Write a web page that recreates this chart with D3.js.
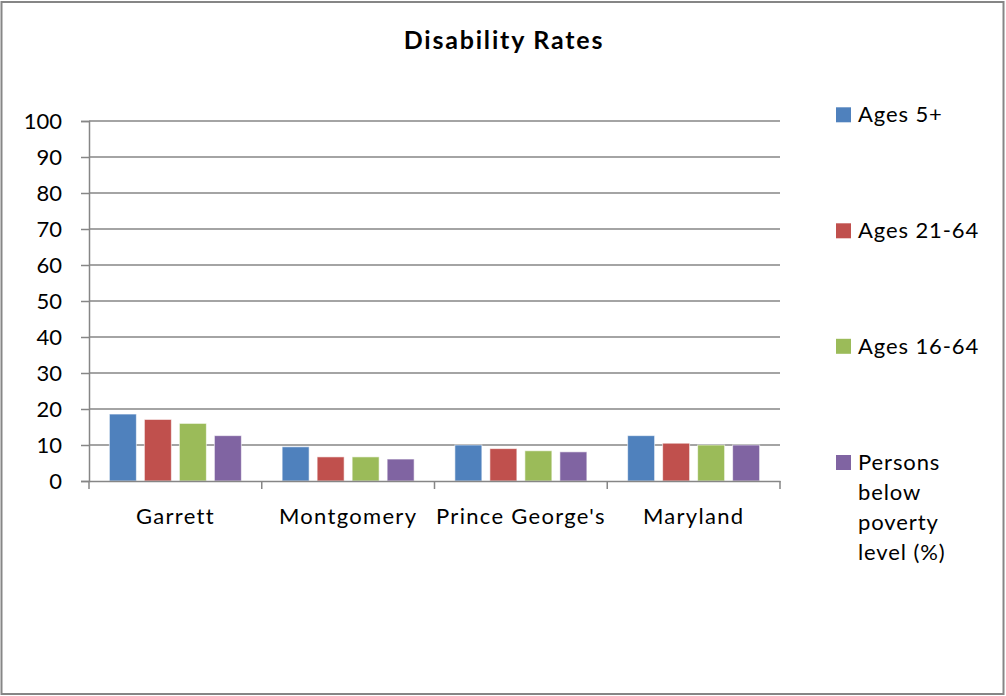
<!DOCTYPE html>
<html><head><meta charset="utf-8">
<script src="https://cdn.jsdelivr.net/npm/d3@7"></script>
<style>body{margin:0;background:#fff}svg{display:block}text{font-family:Lato,"Open Sans",sans-serif;fill:#000}</style>
</head><body>
<script>
const categories = ["Garrett","Montgomery","Prince George's","Maryland"];
const seriesNames = ["Ages 5+","Ages 21-64","Ages 16-64","Persons below poverty level (%)"];
const legendLines = [["Ages 5+"],["Ages 21-64"],["Ages 16-64"],["Persons","below","poverty","level (%)"]];
const ages5 = [18.6, 9.5, 10.0, 12.6];
const ages21_64 = [17.1, 6.7, 9.0, 10.5];
const ages16_64 = [16.0, 6.7, 8.4, 10.0];
const poverty = [12.6, 6.1, 8.1, 10.0];
const yTicks = [0,10,20,30,40,50,60,70,80,90,100];
const colors = ["#4F81BD","#C0504D","#9BBB59","#8064A2"];
const series = [ages5, ages21_64, ages16_64, poverty];

(function(){
const W = 1006, H = 696;
const FONT = "Lato, 'Open Sans', sans-serif";
const svg = d3.select("body").append("svg").attr("width", W).attr("height", H);
svg.append("rect").attr("x",1.5).attr("y",2).attr("width",1002).attr("height",692)
  .attr("fill","#fff").attr("stroke","#868686").attr("stroke-width",2);

const pLeft = 89, pRight = 780, pTop = 121, pBottom = 481;
const y = d3.scaleLinear().domain([0,100]).range([pBottom, pTop]);
const x0 = d3.scaleBand().domain(categories).range([pLeft, pRight]).padding(0);
const x1 = d3.scaleBand().domain(d3.range(4)).range([0, x0.bandwidth()])
  .paddingInner(0.2286).paddingOuter(0.582);

// gridlines
svg.append("g").selectAll("line").data(yTicks.filter(d=>d>0)).join("line")
  .attr("x1", pLeft).attr("x2", pRight).attr("y1", d=>y(d)).attr("y2", d=>y(d))
  .attr("stroke","#868686").attr("stroke-width",1.5);

// y axis
const yAxis = svg.append("g").attr("transform",`translate(${pLeft},0)`)
  .call(d3.axisLeft(y).tickValues(yTicks).tickSize(8).tickPadding(19).tickFormat(d3.format("d")));
yAxis.select(".domain").attr("stroke","#868686").attr("stroke-width",1.5);
yAxis.selectAll(".tick line").attr("stroke","#868686").attr("stroke-width",1.5);
yAxis.selectAll("text").attr("font-size",22).style("font-family",FONT).attr("fill","#000");

// bars
const groups = svg.append("g").selectAll("g").data(categories).join("g")
  .attr("transform", d=>`translate(${x0(d)},0)`);
groups.selectAll("rect").data((c,ci)=>series.map((s,si)=>({si, v:s[ci]}))).join("rect")
  .attr("x", d=>x1(d.si)).attr("width", x1.bandwidth())
  .attr("y", d=>y(d.v)).attr("height", d=>y(0)-y(d.v))
  .attr("fill", d=>colors[d.si]).attr("stroke","#fff").attr("stroke-opacity",0.6).attr("stroke-width",1);

// x axis
const xAxis = svg.append("g").attr("transform",`translate(0,${pBottom})`)
  .call(d3.axisBottom(x0).tickSize(0).tickPadding(27.4));
xAxis.select(".domain").attr("stroke","#868686").attr("stroke-width",1.5);
xAxis.selectAll("text").attr("font-size",22).style("font-family",FONT)
  .style("letter-spacing","1.3px").attr("fill","#000");
const bounds = categories.map(c=>x0(c)).concat([pRight]);
xAxis.append("g").selectAll("line").data(bounds).join("line")
  .attr("x1",d=>d).attr("x2",d=>d).attr("y1",0).attr("y2",8)
  .attr("stroke","#868686").attr("stroke-width",1.5);

// title
svg.append("text").attr("x",504).attr("y",49.3).attr("text-anchor","middle")
  .attr("font-size",25).attr("font-weight","bold").style("letter-spacing","1.8px").text("Disability Rates");

// legend
const legendY = [122.3, 238.3, 353.8, 470];
const legend = svg.append("g").selectAll("g").data(seriesNames).join("g")
  .attr("transform",(d,i)=>`translate(836,${legendY[i]})`);
legend.append("rect").attr("x",0).attr("y",-15).attr("width",15).attr("height",15)
  .attr("fill",(d,i)=>colors[i]);
legend.append("text").attr("x",22).attr("y",0).attr("font-size",22).style("letter-spacing","0.9px")
  .each(function(d,i){
    const t = d3.select(this);
    legendLines[i].forEach((ln,j)=>t.append("tspan").attr("x",22).attr("dy", j===0?0:30).text(ln));
  });
})();
</script>
</body></html>
